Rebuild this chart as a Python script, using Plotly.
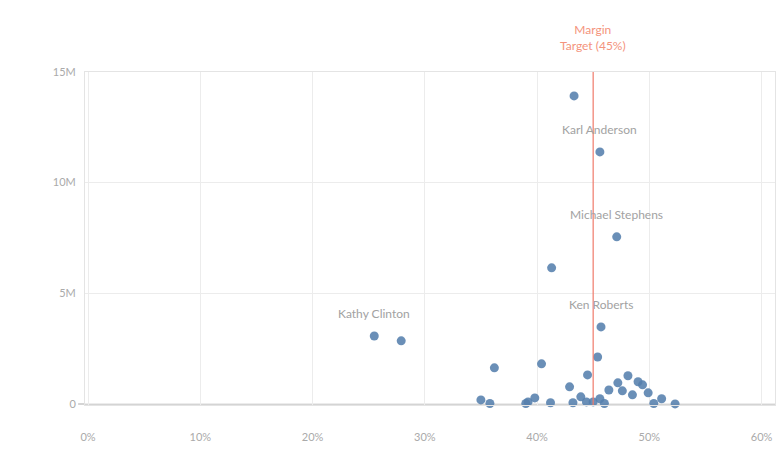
import plotly.graph_objects as go

# Data
margin_pct = [43.3, 45.6, 47.1, 41.3, 45.7, 25.5, 27.9, 45.4, 36.2, 40.4, 44.5, 42.9,
              35.0, 35.8, 39.2, 39.8, 39.0, 41.2, 43.2, 43.9, 44.4, 45.0, 45.6, 46.0,
              46.4, 47.2, 47.6, 48.1, 48.5, 49.0, 49.4, 49.9, 50.4, 51.1, 52.3]
sales_m = [13.92, 11.39, 7.55, 6.15, 3.48, 3.07, 2.85, 2.12, 1.63, 1.81, 1.31, 0.77,
           0.18, 0.02, 0.09, 0.27, 0.02, 0.05, 0.05, 0.32, 0.09, 0.09, 0.23, 0.02,
           0.63, 0.95, 0.59, 1.27, 0.41, 1.00, 0.86, 0.50, 0.02, 0.23, 0.0]
labeled_names = ["Karl Anderson", "Michael Stephens", "Ken Roberts", "Kathy Clinton"]
labeled_idx = [1, 2, 4, 5]
target_margin = 45
x_tickvals = [0, 10, 20, 30, 40, 50, 60]
y_tickvals = [0, 5, 10, 15]
y_ticktext = ["0", "5M", "10M", "15M"]

x = [m / 100 for m in margin_pct]
y = [s * 1e6 for s in sales_m]

fig = go.Figure()
fig.add_trace(go.Scatter(
    x=x, y=y, mode="markers",
    marker=dict(size=9, color="#5580ad", opacity=0.88, line=dict(width=0)),
    hoverinfo="x+y", showlegend=False, cliponaxis=False,
))

annotations = []
for name, i in zip(labeled_names, labeled_idx):
    annotations.append(dict(
        x=x[i], y=y[i], xref="x", yref="y", text=name,
        showarrow=True, ax=0, ay=-22, arrowhead=0, arrowwidth=1,
        arrowcolor="#d6d6d6", standoff=15,
        font=dict(family="Lato", size=12, color="#a2a2a2"),
    ))
annotations.append(dict(
    x=target_margin / 100, y=1, xref="x", yref="paper", yanchor="bottom",
    yshift=17, text="Margin<br>Target (45%)", showarrow=False,
    font=dict(family="Lato", size=12, color="#f4937c"),
))

fig.add_shape(type="line", xref="x", yref="y domain",
              x0=target_margin / 100, x1=target_margin / 100, y0=0, y1=1,
              line=dict(color="#f07a6a", width=1.2), layer="above")
fig.add_shape(type="line", xref="paper", yref="y",
              x0=-0.01, x1=1, y0=0, y1=0,
              line=dict(color="#d4d4d4", width=2), layer="below")

fig.update_layout(
    width=778, height=461,
    margin=dict(l=85, r=3, t=72, b=56),
    paper_bgcolor="white", plot_bgcolor="white",
    font=dict(family="Lato", size=11, color="#a8a8a8"),
    annotations=annotations,
    xaxis=dict(
        range=[-0.0027, 0.612],
        tickvals=[v / 100 for v in x_tickvals],
        tickformat=".0%",
        showgrid=True, gridcolor="#ececec", gridwidth=1,
        zeroline=False, showline=True, linecolor="#e4e4e4", mirror=True,
        ticks="", ticklabelstandoff=22,
        tickfont=dict(family="Lato", size=11, color="#aaaaaa"),
    ),
    yaxis=dict(
        range=[-50000, 15000000],
        tickvals=[v * 1e6 for v in y_tickvals], ticktext=y_ticktext,
        showgrid=True, gridcolor="#ececec", gridwidth=1,
        zeroline=False, showline=True, linecolor="#e4e4e4", mirror=True,
        ticks="", ticklabelstandoff=6,
        tickfont=dict(family="Lato", size=11, color="#aaaaaa"),
    ),
)

fig.write_html("out.html")
